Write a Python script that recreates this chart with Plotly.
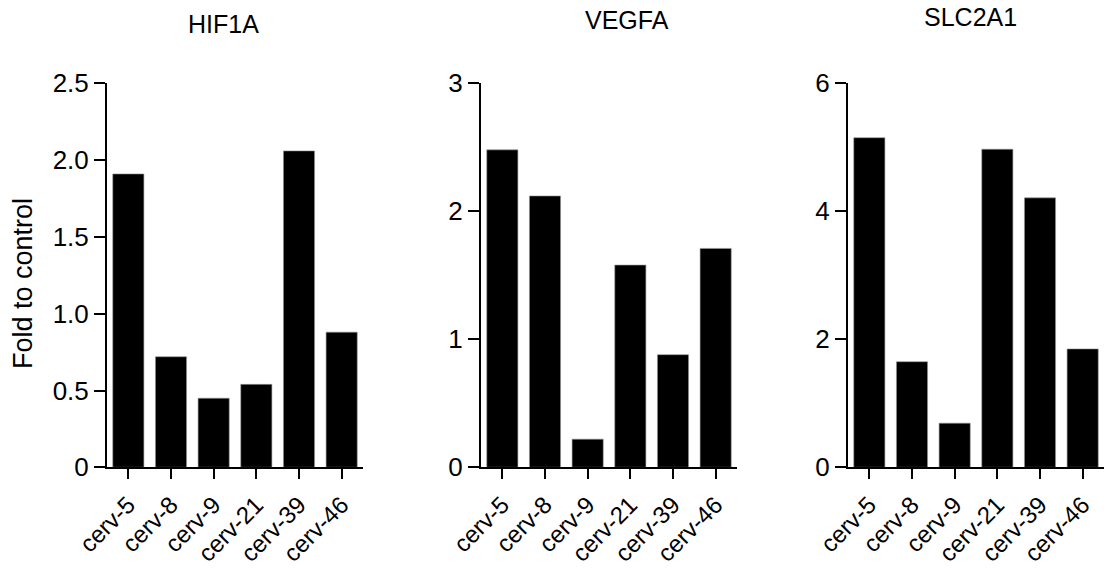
import plotly.graph_objects as go

# Cell lines (shared x categories)
cell_lines = ["cerv-5", "cerv-8", "cerv-9", "cerv-21", "cerv-39", "cerv-46"]

# Fold change relative to control, one list per gene
hif1a = [1.91, 0.72, 0.45, 0.54, 2.06, 0.88]
vegfa = [2.48, 2.12, 0.22, 1.58, 0.88, 1.71]
slc2a1 = [5.15, 1.65, 0.69, 4.97, 4.21, 1.85]

genes = ["HIF1A", "VEGFA", "SLC2A1"]

# y tick values / labels per panel
hif1a_ticks = [0, 0.5, 1.0, 1.5, 2.0, 2.5]
hif1a_ticktext = ["0", "0.5", "1.0", "1.5", "2.0", "2.5"]
vegfa_ticks = [0, 1, 2, 3]
slc2a1_ticks = [0, 2, 4, 6]

W, H = 1110, 569
FONT = "Liberation Sans, Arial, sans-serif"

fig = go.Figure()

series = [hif1a, vegfa, slc2a1]
for i, vals in enumerate(series):
    fig.add_trace(go.Bar(
        x=cell_lines, y=vals,
        marker=dict(color="black", line=dict(width=0.6, color="#9a9a9a")),
        width=0.73,
        xaxis="x" if i == 0 else f"x{i+1}",
        yaxis="y" if i == 0 else f"y{i+1}",
        showlegend=False,
    ))

# panel geometry in pixels
x_left = [107, 481, 848]
panel_w = 256
y_bottom_px, y_top_px = 467.3, 83.3
ydom = [(H - y_bottom_px) / H, (H - y_top_px) / H]

y_specs = [
    dict(range=[0, 2.5], tickvals=hif1a_ticks, ticktext=hif1a_ticktext),
    dict(range=[0, 3], tickvals=vegfa_ticks, ticktext=[str(v) for v in vegfa_ticks]),
    dict(range=[0, 6], tickvals=slc2a1_ticks, ticktext=[str(v) for v in slc2a1_ticks]),
]

layout = dict(
    template="none",
    width=W, height=H,
    margin=dict(l=0, r=0, t=0, b=0, autoexpand=False),
    plot_bgcolor="white", paper_bgcolor="white",
    font=dict(family=FONT, color="black", size=26),
)

for i in range(3):
    xa = "xaxis" if i == 0 else f"xaxis{i+1}"
    ya = "yaxis" if i == 0 else f"yaxis{i+1}"
    yref = "y" if i == 0 else f"y{i+1}"
    xref = "x" if i == 0 else f"x{i+1}"
    layout[xa] = dict(
        domain=[x_left[i] / W, (x_left[i] + panel_w) / W],
        anchor=yref,
        range=[-0.5, 5.5],
        automargin=False,
        showline=True, linecolor="black", linewidth=2,
        ticks="outside", ticklen=10, tickwidth=2, tickcolor="black",
        tickangle=-45, showgrid=False, zeroline=False,
        ticklabelstandoff=2,
        tickfont=dict(size=24, family=FONT, color="black"),
        type="category",
    )
    layout[ya] = dict(
        domain=ydom,
        anchor=xref,
        range=y_specs[i]["range"],
        tickvals=y_specs[i]["tickvals"],
        ticktext=y_specs[i]["ticktext"],
        automargin=False,
        showline=True, linecolor="black", linewidth=2,
        ticks="outside", ticklen=11, tickwidth=2, tickcolor="black",
        showgrid=False, zeroline=False,
        tickfont=dict(size=26, family=FONT, color="black"),
    )

fig.update_layout(**layout)

# panel titles
title_pos = [(223, 24), (627, 20), (970, 17)]
for g, (tx, ty) in zip(genes, title_pos):
    fig.add_annotation(
        text=g, x=tx / W, y=1 - ty / H, xref="paper", yref="paper",
        showarrow=False, xanchor="center", yanchor="middle",
        font=dict(size=25, family=FONT, color="black"),
    )

# shared y-axis title
fig.add_annotation(
    text="Fold to control", x=23 / W, y=1 - 284 / H, xref="paper", yref="paper",
    showarrow=False, xanchor="center", yanchor="middle", textangle=-90,
    font=dict(size=27, family=FONT, color="black"),
)

fig.write_html("out.html")
